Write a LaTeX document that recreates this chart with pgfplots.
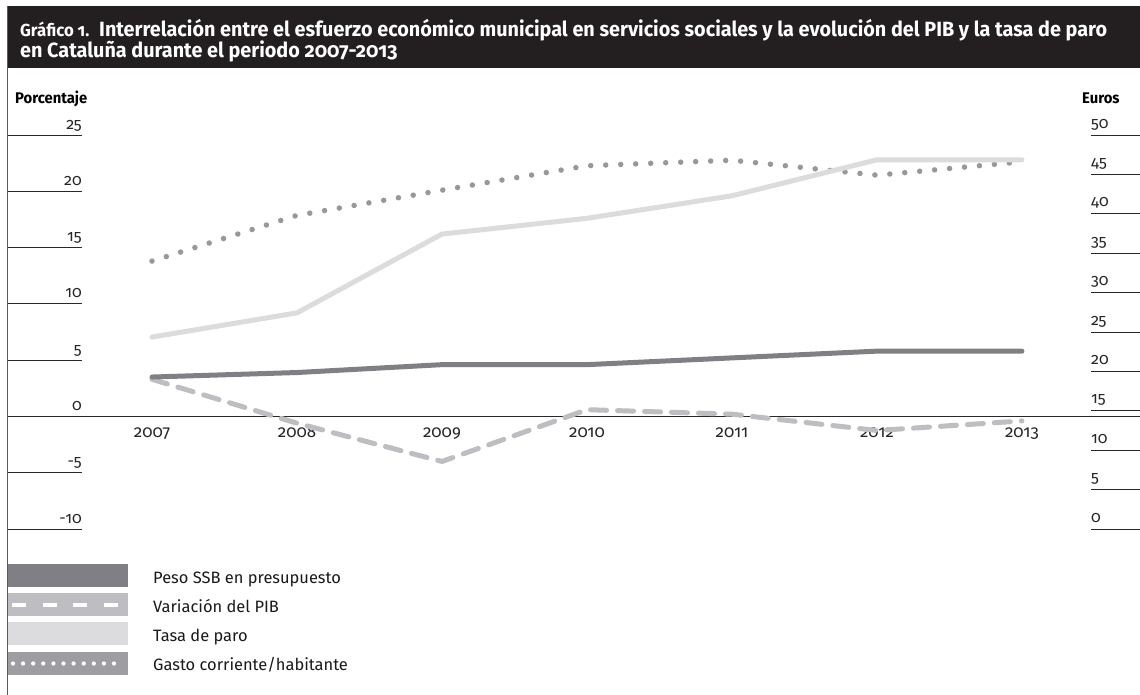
\documentclass[border=0pt]{standalone}
\usepackage{fontspec}
\setmainfont{Fira Sans}[Numbers=OldStyle]
\newfontfamily\titlefont{Fira Sans}[Numbers=OldStyle, FakeStretch=0.96]
\usepackage{pgfplots}
\pgfplotsset{compat=1.18}
\definecolor{titlebg}{RGB}{35,31,32}
\definecolor{framec}{RGB}{90,90,90}
\definecolor{axisc}{RGB}{40,40,40}
\definecolor{ssb}{RGB}{128,128,132}
\definecolor{pib}{RGB}{190,190,194}
\definecolor{tasa}{RGB}{220,220,222}
\definecolor{gasto}{RGB}{152,152,156}
\definecolor{gastoleg}{RGB}{158,158,162}
\begin{document}
\begin{tikzpicture}
\useasboundingbox (0bp,0bp) rectangle (1140bp,-695bp);
\fill[white] (0bp,0bp) rectangle (1140bp,-695bp);
\fill[titlebg] (7bp,-5.5bp) rectangle (1140bp,-68bp);
\draw[framec, line width=1.2bp] (7.5bp,-5.5bp) -- (7.5bp,-695bp);
\begin{scope}[every node/.style={anchor=base west, inner sep=0pt, text=white}]
\node[font=\titlefont\bfseries\fontsize{17.5}{20}\selectfont] at (20bp,-36bp) {Gráfico 1.};
\node[font=\titlefont\bfseries\fontsize{20.7}{24}\selectfont] at (99bp,-36bp)
 {Interrelación entre el esfuerzo económico municipal en servicios sociales y la evolución del PIB y la tasa de paro};
\node[font=\titlefont\bfseries\fontsize{20.7}{24}\selectfont] at (20bp,-57.5bp)
 {en Cataluña durante el periodo 2007-2013};
\end{scope}
\node[anchor=base west, inner sep=0pt, font=\titlefont\bfseries\fontsize{15.5}{18}\selectfont] at (15bp,-103bp) {Porcentaje};
\node[anchor=base west, inner sep=0pt, font=\titlefont\bfseries\fontsize{15.5}{18}\selectfont] at (1082bp,-103bp) {Euros};

% right axis (euros)
\begin{axis}[
 at={(8bp,-529bp)}, anchor=south west, scale only axis, width=1132bp, height=394bp,
 xmin=-0.9931, xmax=6.8138, ymin=0, ymax=50,
 axis x line=none, axis y line=right,
 y axis line style={draw=none},
 ytick={0,5,10,15,20,25,30,35,40,45,50},
 yticklabels={0,5,10,15,20,25,30,35,40,45,50},
 tick align=inside, major tick length=49bp,
 ytick style={draw=axisc, line width=1bp},
 yticklabel style={anchor=base west, xshift=-49bp, yshift=7bp, inner sep=0pt},
 tick label style={font=\fontsize{16}{18}\selectfont, text=black!85},
 clip=false,
]
\addplot[gasto, line width=5.5bp, line cap=round, dash pattern=on 0bp off 15bp]
 coordinates {(0,34.0)(1,39.8)(2,43.0)(3,46.1)(4,46.8)(5,44.9)(6,46.6)};
\end{axis}

% left axis (percent)
\begin{axis}[
 at={(8bp,-529bp)}, anchor=south west, scale only axis, width=1132bp, height=394bp,
 xmin=-0.9931, xmax=6.8138, ymin=-10, ymax=25,
 axis x line=middle, axis y line=left,
 x axis line style={-, draw=axisc, line width=1bp},
 y axis line style={draw=none},
 hide obscured x ticks=false, hide obscured y ticks=false,
 xtick={0,1,2,3,4,5,6}, xticklabels={2007,2008,2009,2010,2011,2012,2013},
 xtick style={draw=none},
 ytick={-10,-5,0,5,10,15,20,25}, yticklabels={-10,-5,0,5,10,15,20,25},
 ytick style={draw=axisc, line width=1bp},
 tick align=inside, major tick length=74bp,
 yticklabel style={anchor=base east, xshift=74bp, yshift=6bp, inner sep=0pt},
 xticklabel style={anchor=base, yshift=-21bp, inner sep=0pt, font=\fontsize{17}{20}\selectfont},
 tick label style={font=\fontsize{16}{18}\selectfont, text=black!85},
 clip=false,
]
\addplot[tasa, line width=5bp, line cap=round, line join=round]
 coordinates {(0,7.05)(1,9.2)(2,16.2)(3,17.6)(4,19.6)(5,22.8)(6,22.8)};
\addplot[pib, line width=5bp, line cap=round, line join=round, dash pattern=on 16bp off 11bp]
 coordinates {(0,3.3)(1,-0.6)(2,-4.0)(3,0.6)(4,0.2)(5,-1.25)(6,-0.4)};
\addplot[ssb, line width=5bp, line cap=round, line join=round]
 coordinates {(0,3.5)(1,3.9)(2,4.6)(3,4.6)(4,5.2)(5,5.8)(6,5.8)};
\end{axis}

% legend
\fill[ssb] (8bp,-564bp) rectangle (128bp,-587bp);
\fill[pib] (8bp,-593bp) rectangle (128bp,-616bp);
\draw[white, line width=4bp, dash pattern=on 14bp off 16.5bp] (12bp,-604.5bp) -- (122bp,-604.5bp);
\fill[tasa] (8bp,-622bp) rectangle (128bp,-645bp);
\fill[gastoleg] (8bp,-652bp) rectangle (128bp,-675bp);
\draw[white, line width=4.3bp, line cap=round, dash pattern=on 0bp off 10.1bp] (13bp,-663.5bp) -- (124bp,-663.5bp);
\begin{scope}[every node/.style={anchor=base west, inner sep=0pt, font=\fontsize{16.5}{20}\selectfont, text=black!90}]
\node at (153bp,-583bp) {Peso SSB en presupuesto};
\node at (153bp,-612bp) {Variación del PIB};
\node at (153bp,-641bp) {Tasa de paro};
\node at (153bp,-670bp) {Gasto corriente/habitante};
\end{scope}
\end{tikzpicture}
\end{document}
